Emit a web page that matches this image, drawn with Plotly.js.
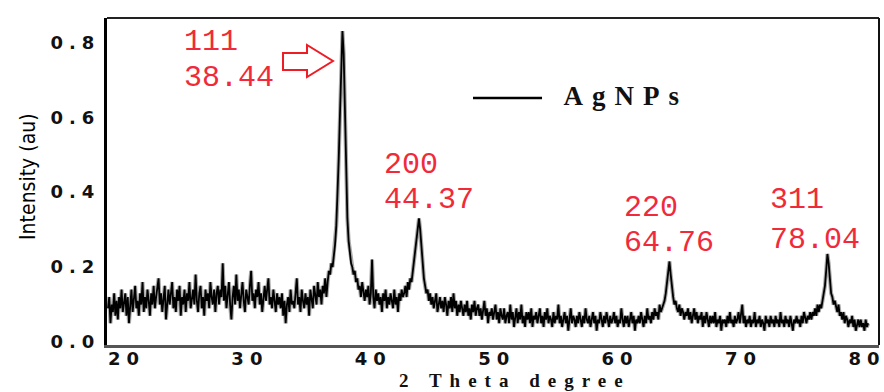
<!DOCTYPE html>
<html>
<head>
<meta charset="utf-8">
<script src="https://cdn.plot.ly/plotly-3.0.1.min.js"></script>
<style>
  html, body { margin: 0; padding: 0; background: #fff; }
  #chart { width: 884px; height: 392px; }
  .xtick text, .ytick text { letter-spacing: 6px; }
  .annotation[data-index="8"] text { letter-spacing: 9px; }
  .annotation[data-index="9"] text { letter-spacing: 8px; }
</style>
</head>
<body>
<div id="chart"></div>
<script>
// XRD scan of AgNPs: 2-theta grid (degrees) and intensity (a.u.)
const scanStart = 18.5;
const scanStep = 0.1;
const intensity = [
  0.09, 0.12, 0.05, 0.10, 0.08, 0.13, 0.07, 0.11, 0.06, 0.12, // 18.5
  0.09, 0.14, 0.08, 0.11, 0.13, 0.07, 0.12, 0.05, 0.10, 0.14, // 19.5
  0.08, 0.12, 0.15, 0.09, 0.11, 0.07, 0.13, 0.10, 0.16, 0.08, // 20.5
  0.12, 0.09, 0.14, 0.11, 0.07, 0.13, 0.10, 0.15, 0.09, 0.12, // 21.5
  0.14, 0.17, 0.10, 0.13, 0.08, 0.12, 0.15, 0.06, 0.11, 0.14, // 22.5
  0.10, 0.13, 0.16, 0.09, 0.12, 0.08, 0.14, 0.11, 0.15, 0.07, // 23.5
  0.12, 0.10, 0.14, 0.08, 0.13, 0.11, 0.16, 0.09, 0.12, 0.14, // 24.5
  0.10, 0.18, 0.11, 0.08, 0.13, 0.15, 0.09, 0.12, 0.07, 0.14, // 25.5
  0.11, 0.13, 0.09, 0.16, 0.12, 0.10, 0.14, 0.08, 0.13, 0.15, // 26.5
  0.10, 0.14, 0.12, 0.21, 0.11, 0.15, 0.09, 0.13, 0.16, 0.10, // 27.5
  0.06, 0.12, 0.15, 0.10, 0.18, 0.11, 0.14, 0.09, 0.13, 0.16, // 28.5
  0.11, 0.08, 0.14, 0.12, 0.10, 0.15, 0.19, 0.11, 0.13, 0.09, // 29.5
  0.14, 0.12, 0.16, 0.10, 0.13, 0.08, 0.12, 0.15, 0.11, 0.14, // 30.5
  0.17, 0.10, 0.12, 0.09, 0.14, 0.11, 0.08, 0.13, 0.10, 0.12, // 31.5
  0.09, 0.13, 0.07, 0.11, 0.05, 0.10, 0.12, 0.08, 0.14, 0.10, // 32.5
  0.11, 0.09, 0.13, 0.17, 0.10, 0.12, 0.08, 0.14, 0.11, 0.09, // 33.5
  0.13, 0.10, 0.12, 0.07, 0.14, 0.11, 0.09, 0.15, 0.12, 0.10, // 34.5
  0.16, 0.12, 0.14, 0.10, 0.15, 0.13, 0.17, 0.12, 0.16, 0.19, // 35.5
  0.18, 0.21, 0.20, 0.23, 0.26, 0.31, 0.38, 0.49, 0.61, 0.74, // 36.5
  0.83, 0.77, 0.60, 0.44, 0.33, 0.27, 0.24, 0.21, 0.20, 0.18, // 37.5
  0.19, 0.16, 0.17, 0.14, 0.15, 0.12, 0.16, 0.13, 0.11, 0.14, // 38.5
  0.12, 0.15, 0.10, 0.13, 0.22, 0.12, 0.09, 0.14, 0.11, 0.13, // 39.5
  0.10, 0.12, 0.08, 0.13, 0.11, 0.14, 0.09, 0.12, 0.10, 0.13, // 40.5
  0.11, 0.09, 0.14, 0.10, 0.12, 0.08, 0.13, 0.11, 0.14, 0.12, // 41.5
  0.13, 0.15, 0.12, 0.16, 0.14, 0.17, 0.16, 0.19, 0.21, 0.24, // 42.5
  0.27, 0.31, 0.33, 0.30, 0.25, 0.20, 0.17, 0.15, 0.13, 0.14, // 43.5
  0.11, 0.13, 0.10, 0.12, 0.09, 0.11, 0.13, 0.08, 0.10, 0.12, // 44.5
  0.09, 0.11, 0.08, 0.12, 0.10, 0.07, 0.11, 0.09, 0.12, 0.08, // 45.5
  0.13, 0.09, 0.11, 0.07, 0.10, 0.08, 0.11, 0.09, 0.07, 0.10, // 46.5
  0.08, 0.11, 0.07, 0.09, 0.06, 0.10, 0.08, 0.11, 0.07, 0.09, // 47.5
  0.10, 0.07, 0.09, 0.06, 0.08, 0.11, 0.07, 0.09, 0.05, 0.08, // 48.5
  0.07, 0.09, 0.06, 0.08, 0.10, 0.06, 0.08, 0.05, 0.09, 0.07, // 49.5
  0.06, 0.09, 0.05, 0.07, 0.08, 0.05, 0.10, 0.06, 0.08, 0.04, // 50.5
  0.07, 0.09, 0.05, 0.08, 0.06, 0.10, 0.05, 0.07, 0.04, 0.08, // 51.5
  0.06, 0.08, 0.05, 0.09, 0.04, 0.07, 0.06, 0.08, 0.05, 0.07, // 52.5
  0.09, 0.05, 0.07, 0.04, 0.08, 0.06, 0.09, 0.05, 0.07, 0.06, // 53.5
  0.04, 0.08, 0.05, 0.07, 0.06, 0.10, 0.05, 0.07, 0.04, 0.06, // 54.5
  0.08, 0.05, 0.07, 0.03, 0.06, 0.09, 0.05, 0.07, 0.06, 0.04, // 55.5
  0.07, 0.05, 0.08, 0.06, 0.04, 0.07, 0.05, 0.09, 0.06, 0.05, // 56.5
  0.07, 0.04, 0.06, 0.08, 0.05, 0.07, 0.03, 0.06, 0.05, 0.08, // 57.5
  0.06, 0.04, 0.07, 0.05, 0.08, 0.06, 0.04, 0.07, 0.05, 0.06, // 58.5
  0.08, 0.05, 0.07, 0.04, 0.06, 0.05, 0.09, 0.06, 0.04, 0.07, // 59.5
  0.05, 0.07, 0.04, 0.06, 0.08, 0.05, 0.07, 0.03, 0.06, 0.05, // 60.5
  0.07, 0.05, 0.08, 0.06, 0.04, 0.07, 0.05, 0.09, 0.06, 0.07, // 61.5
  0.05, 0.08, 0.06, 0.09, 0.07, 0.08, 0.06, 0.10, 0.08, 0.09, // 62.5
  0.10, 0.11, 0.13, 0.16, 0.20, 0.215, 0.18, 0.14, 0.12, 0.10, // 63.5
  0.11, 0.09, 0.08, 0.10, 0.07, 0.09, 0.08, 0.06, 0.08, 0.07, // 64.5
  0.09, 0.06, 0.08, 0.05, 0.07, 0.09, 0.06, 0.08, 0.05, 0.07, // 65.5
  0.06, 0.08, 0.04, 0.07, 0.05, 0.08, 0.06, 0.04, 0.07, 0.05, // 66.5
  0.07, 0.05, 0.08, 0.04, 0.06, 0.05, 0.07, 0.03, 0.06, 0.05, // 67.5
  0.06, 0.04, 0.07, 0.05, 0.08, 0.05, 0.06, 0.04, 0.07, 0.05, // 68.5
  0.06, 0.08, 0.05, 0.07, 0.10, 0.05, 0.07, 0.04, 0.06, 0.05, // 69.5
  0.07, 0.04, 0.06, 0.05, 0.08, 0.04, 0.06, 0.05, 0.07, 0.04, // 70.5
  0.06, 0.05, 0.03, 0.07, 0.05, 0.06, 0.04, 0.07, 0.05, 0.06, // 71.5
  0.04, 0.07, 0.05, 0.06, 0.04, 0.08, 0.05, 0.06, 0.04, 0.07, // 72.5
  0.05, 0.06, 0.04, 0.07, 0.05, 0.03, 0.06, 0.05, 0.07, 0.05, // 73.5
  0.06, 0.04, 0.07, 0.05, 0.08, 0.06, 0.05, 0.07, 0.06, 0.08, // 74.5
  0.06, 0.08, 0.07, 0.09, 0.07, 0.10, 0.08, 0.10, 0.09, 0.11, // 75.5
  0.13, 0.15, 0.19, 0.235, 0.21, 0.16, 0.13, 0.12, 0.10, 0.11, // 76.5
  0.09, 0.08, 0.10, 0.07, 0.08, 0.06, 0.08, 0.05, 0.07, 0.06, // 77.5
  0.04, 0.06, 0.05, 0.07, 0.04, 0.06, 0.03, 0.05, 0.06, 0.04, // 78.5
  0.06, 0.04, 0.05, 0.03, 0.06, 0.04, 0.05                    // 79.5
];
const twoTheta = intensity.map((_, i) => +(scanStart + i * scanStep).toFixed(2));

// Peak labels (Miller index and 2-theta position as printed)
const peakIndex = ['111', '200', '220', '311'];
const peakAngle = ['38.44', '44.37', '64.76', '78.04'];
const legendName = 'AgNPs';
const xTitle = '2 Theta degree';
const yTitle = 'Intensity (au)';

const xTicks = [20, 30, 40, 50, 60, 70, 80];
const yTicks = [0.0, 0.2, 0.4, 0.6, 0.8];

// label placement (layout only)
const labelPos = [
  {x: 24.5, yTop: 0.800, yBot: 0.705},
  {x: 40.7, yTop: 0.472, yBot: 0.379},
  {x: 60.15, yTop: 0.358, yBot: 0.264},
  {x: 71.98, yTop: 0.379, yBot: 0.272}
];

const labelFont = {family: '"Liberation Mono", "Courier New", monospace', size: 30, color: '#f02a3a'};
const annotations = [];
peakIndex.forEach((t, i) => {
  annotations.push({x: labelPos[i].x, y: labelPos[i].yTop, xref: 'x', yref: 'y', text: t,
    showarrow: false, xanchor: 'left', yanchor: 'middle', font: labelFont});
  annotations.push({x: labelPos[i].x, y: labelPos[i].yBot, xref: 'x', yref: 'y', text: peakAngle[i],
    showarrow: false, xanchor: 'left', yanchor: 'middle', font: labelFont});
});
// index 8: legend label
annotations.push({x: 0.6723, y: 0.7615, xref: 'paper', yref: 'paper', text: legendName,
  showarrow: false, xanchor: 'center', yanchor: 'middle',
  font: {family: '"Liberation Serif", "Times New Roman", serif', size: 27, color: '#111', weight: 'bold'}});
// index 9: x-axis title
annotations.push({x: 0.528, y: -0.1437, xref: 'paper', yref: 'paper', text: xTitle,
  showarrow: false, xanchor: 'center', yanchor: 'bottom', borderpad: 0,
  font: {family: '"Liberation Serif", "Times New Roman", serif', size: 19, color: '#111', weight: 'bold'}});
// index 10: y-axis title
annotations.push({x: -0.1023, y: 0.514, xref: 'paper', yref: 'paper', text: yTitle, textangle: -90,
  showarrow: false, xanchor: 'center', yanchor: 'middle',
  font: {family: '"Liberation Sans Narrow", "DejaVu Sans Condensed", "Arial Narrow", sans-serif', size: 21, color: '#000'}});

const traces = [
  {x: twoTheta, y: intensity, type: 'scatter', mode: 'lines', showlegend: false,
   line: {color: 'rgba(110,110,110,0.6)', width: 4}, hoverinfo: 'skip'},
  {x: twoTheta, y: intensity, type: 'scatter', mode: 'lines', name: legendName, showlegend: false,
   line: {color: '#000', width: 1.8}}
];

const layout = {
  width: 884, height: 392,
  margin: {l: 107, r: 5, t: 18, b: 47},
  paper_bgcolor: '#fff', plot_bgcolor: '#fff',
  xaxis: {
    range: [18.42, 80.98], tickvals: xTicks, ticktext: xTicks.map(String),
    showgrid: false, zeroline: false, ticks: '', ticklabeloverflow: 'allow', ticklabelstandoff: -5,
    showline: true, linecolor: '#555', linewidth: 3,
    tickfont: {family: '"DejaVu Sans", sans-serif', size: 18, color: '#111', weight: 'bold'}
  },
  yaxis: {
    range: [-0.008, 0.865], tickvals: yTicks, ticktext: yTicks.map(v => v.toFixed(1)),
    showgrid: false, zeroline: false, ticks: '',
    showline: true, linecolor: '#000', linewidth: 3,
    tickfont: {family: '"DejaVu Sans", sans-serif', size: 18, color: '#111', weight: 'bold'}
  },
  shapes: [
    {type: 'line', xref: 'paper', yref: 'paper', x0: 0, x1: 1, y0: 1, y1: 1, line: {color: '#222', width: 2}},
    {type: 'line', xref: 'paper', yref: 'paper', x0: 1, x1: 1, y0: 0, y1: 1, line: {color: '#111', width: 2}},
    {type: 'line', xref: 'paper', yref: 'paper', x0: 0.4741, x1: 0.5635, y0: 0.7554, y1: 0.7554, line: {color: '#000', width: 2.5}},
    {type: 'path', xref: 'paper', yref: 'paper',
     path: 'M 0.2280 0.8930 L 0.2591 0.8930 L 0.2591 0.9174 L 0.2927 0.8685 L 0.2591 0.8196 L 0.2591 0.8410 L 0.2280 0.8410 Z',
     line: {color: '#ee1c25', width: 2}, fillcolor: 'rgba(255,255,255,0)'}
  ],
  annotations: annotations
};

Plotly.newPlot('chart', traces, layout, {displayModeBar: false, staticPlot: true});
</script>
</body>
</html>
